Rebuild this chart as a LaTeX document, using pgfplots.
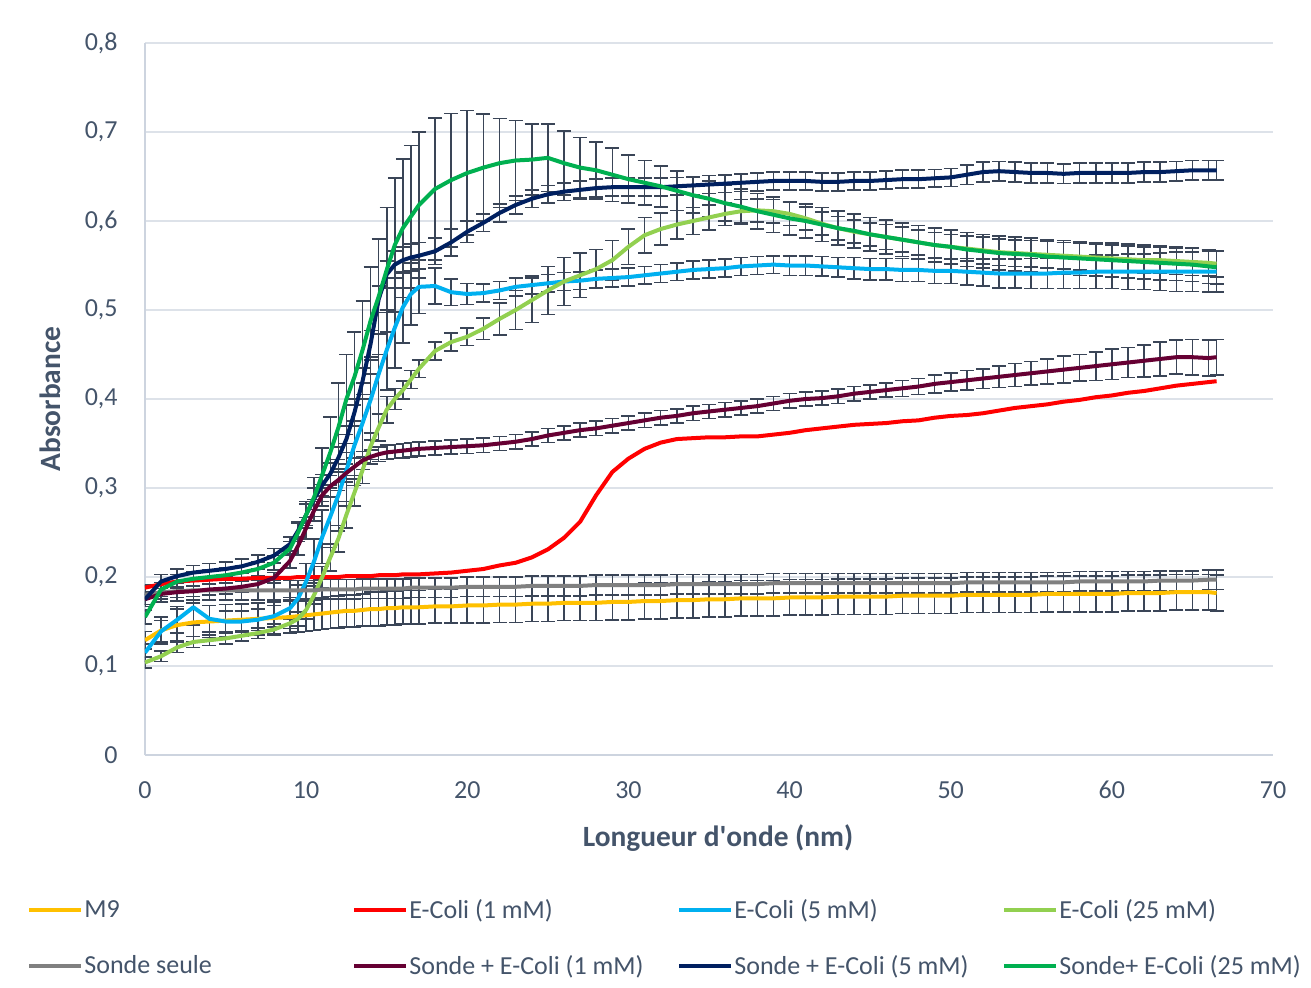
\documentclass[border=0pt]{standalone}
\usepackage{pgfplots}
\usepackage{pgfplotstable}
\usepackage{fontspec}
\setmainfont{Carlito}
\pgfplotsset{compat=1.18}
\definecolor{txt}{HTML}{44546A}
\definecolor{errc}{HTML}{3A4557}
\definecolor{gridc}{HTML}{DDE2E9}
\definecolor{axc}{HTML}{CDD4DF}
\definecolor{cM}{HTML}{FFC000}
\definecolor{cA}{HTML}{FF0000}
\definecolor{cB}{HTML}{00B0F0}
\definecolor{cC}{HTML}{92D050}
\definecolor{cS}{HTML}{808080}
\definecolor{cD}{HTML}{660033}
\definecolor{cE}{HTML}{002060}
\definecolor{cF}{HTML}{00B050}
\pgfplotstableread{
x m9 m9e e1 e5 e5e e25 e25e ss sse s1 s1e s5 s5e s25 s25e
0 .129 .010 .188 .115 .010 .104 .006 .180 .011 .175 .006 .175 .008 .155 .008
1 .140 .015 .192 .139 .012 .111 .006 .183 .011 .181 .006 .195 .008 .186 .008
2 .146 .018 .195 .152 .015 .121 .006 .184 .011 .183 .006 .201 .008 .195 .008
3 .149 .022 .196 .166 .020 .127 .006 .185 .011 .184 .006 .205 .008 .198 .008
4 .150 .018 .197 .153 .015 .129 .006 .185 .011 .186 .006 .207 .008 .200 .008
5 .151 .018 .198 .150 .012 .131 .006 .185 .011 .187 .006 .209 .008 .202 .008
6 .152 .018 .198 .150 .012 .134 .006 .185 .011 .189 .006 .212 .008 .205 .008
7 .153 .018 .199 .152 .012 .137 .006 .185 .011 .192 .006 .217 .008 .209 .008
8 .154 .018 .199 .156 .012 .141 .006 .185 .011 .199 .006 .224 .008 .216 .008
9 .155 .018 .199 .165 .012 .148 .006 .185 .011 .218 .008 .237 .008 .232 .008
9.5 .156 .018 .200 .176 .015 .153 .008 .185 .011 .235 .010 .252 .010 .250 .010
10 .157 .018 .200 .195 .020 .163 .010 .185 .011 .255 .012 .270 .012 .270 .015
10.5 .158 .018 .200 .218 .025 .180 .010 .185 .011 .275 .012 .288 .012 .290 .022
11 .159 .018 .200 .245 .030 .200 .012 .186 .011 .292 .012 .303 .012 .315 .030
11.5 .160 .018 .200 .268 .035 .222 .015 .186 .011 .302 .012 .316 .012 .340 .040
12 .161 .018 .200 .292 .040 .243 .015 .186 .011 .309 .012 .334 .012 .368 .050
12.5 .162 .018 .201 .320 .040 .270 .015 .186 .011 .317 .010 .355 .015 .400 .050
13 .162 .018 .201 .348 .045 .295 .015 .186 .011 .324 .010 .385 .015 .425 .050
13.5 .163 .018 .201 .373 .045 .320 .015 .187 .011 .331 .010 .420 .015 .455 .055
14 .164 .019 .201 .399 .045 .347 .015 .187 .011 .335 .008 .462 .015 .488 .060
14.5 .164 .019 .202 .428 .045 .368 .015 .187 .011 .338 .008 .512 .015 .515 .065
15 .165 .019 .202 .455 .045 .388 .015 .187 .011 .340 .008 .540 .015 .545 .070
15.5 .165 .019 .202 .480 .045 .400 .012 .187 .011 .341 .008 .551 .015 .573 .075
16 .166 .019 .203 .503 .040 .410 .010 .187 .011 .342 .008 .556 .015 .592 .078
16.5 .166 .019 .203 .518 .035 .422 .010 .188 .011 .343 .008 .559 .015 .605 .080
17 .166 .019 .203 .526 .030 .434 .010 .188 .011 .344 .008 .561 .015 .618 .082
18 .167 .019 .204 .527 .020 .454 .010 .188 .011 .345 .008 .566 .015 .636 .080
19 .167 .019 .205 .520 .015 .464 .010 .188 .011 .346 .008 .576 .015 .646 .075
20 .168 .020 .207 .518 .012 .470 .010 .189 .011 .347 .008 .588 .012 .654 .070
21 .168 .020 .209 .519 .010 .479 .012 .189 .011 .348 .008 .598 .010 .660 .060
22 .169 .020 .213 .522 .010 .490 .018 .189 .011 .350 .008 .609 .010 .665 .050
23 .169 .020 .216 .526 .010 .500 .022 .189 .011 .352 .008 .618 .010 .668 .045
24 .170 .020 .222 .528 .010 .511 .025 .190 .011 .355 .008 .625 .010 .669 .040
25 .170 .020 .231 .530 .010 .522 .027 .190 .011 .359 .008 .630 .010 .671 .038
26 .171 .020 .244 .532 .010 .532 .027 .190 .011 .362 .008 .633 .010 .665 .036
27 .171 .020 .262 .533 .010 .539 .025 .190 .011 .365 .008 .635 .010 .660 .034
28 .171 .020 .292 .535 .010 .546 .022 .191 .011 .367 .008 .637 .010 .657 .032
29 .172 .020 .318 .536 .010 .556 .022 .191 .011 .370 .008 .638 .010 .652 .030
30 .172 .020 .333 .537 .010 .571 .020 .191 .011 .373 .008 .638 .010 .647 .027
31 .173 .020 .344 .539 .010 .584 .020 .191 .011 .376 .008 .638 .010 .643 .025
32 .173 .020 .351 .541 .010 .591 .018 .191 .011 .379 .008 .638 .010 .639 .023
33 .174 .020 .355 .543 .010 .596 .016 .192 .011 .381 .008 .639 .010 .634 .022
34 .174 .020 .356 .545 .010 .600 .015 .192 .011 .384 .008 .640 .010 .629 .020
35 .175 .020 .357 .546 .010 .604 .014 .192 .011 .386 .008 .641 .010 .625 .020
36 .175 .020 .357 .547 .010 .608 .013 .192 .011 .388 .008 .642 .010 .620 .020
37 .176 .020 .358 .549 .010 .611 .013 .192 .011 .390 .008 .643 .010 .616 .020
38 .176 .020 .358 .550 .010 .612 .013 .192 .011 .392 .008 .644 .010 .611 .020
39 .176 .020 .360 .551 .010 .611 .013 .193 .011 .395 .008 .645 .010 .607 .020
40 .177 .020 .362 .550 .011 .608 .013 .193 .011 .398 .008 .645 .010 .603 .019
41 .177 .020 .365 .550 .011 .603 .013 .193 .011 .400 .008 .645 .010 .600 .019
42 .177 .020 .367 .549 .011 .597 .013 .193 .011 .401 .008 .644 .010 .596 .019
43 .178 .020 .369 .548 .011 .592 .013 .193 .011 .403 .008 .644 .010 .592 .019
44 .178 .020 .371 .547 .012 .588 .013 .193 .011 .406 .008 .645 .010 .589 .019
45 .178 .020 .372 .546 .012 .585 .013 .193 .011 .408 .008 .645 .010 .585 .019
46 .178 .020 .373 .546 .012 .582 .014 .193 .011 .410 .008 .646 .010 .582 .019
47 .179 .020 .375 .545 .013 .579 .014 .193 .011 .412 .009 .647 .010 .579 .019
48 .179 .020 .376 .545 .013 .576 .014 .193 .011 .414 .009 .647 .010 .576 .019
49 .179 .020 .379 .544 .014 .573 .014 .193 .011 .417 .010 .648 .010 .573 .019
50 .179 .020 .381 .544 .014 .571 .014 .193 .011 .419 .010 .649 .010 .571 .019
51 .180 .020 .382 .543 .015 .569 .014 .194 .011 .421 .011 .652 .011 .568 .019
52 .180 .020 .384 .542 .015 .567 .015 .194 .011 .423 .011 .655 .011 .566 .019
53 .180 .020 .387 .541 .016 .565 .015 .194 .011 .425 .012 .656 .011 .564 .019
54 .180 .020 .390 .541 .016 .564 .015 .194 .011 .427 .013 .655 .011 .563 .019
55 .180 .020 .392 .541 .017 .563 .015 .194 .011 .429 .013 .654 .011 .562 .019
56 .181 .020 .394 .541 .017 .562 .015 .194 .011 .431 .014 .654 .011 .560 .019
57 .181 .020 .397 .542 .018 .561 .015 .194 .011 .433 .015 .653 .011 .559 .019
58 .181 .020 .399 .542 .018 .560 .015 .195 .011 .435 .015 .654 .011 .558 .019
59 .181 .020 .402 .543 .019 .559 .015 .195 .011 .437 .016 .654 .011 .557 .019
60 .181 .020 .404 .543 .019 .558 .015 .195 .011 .439 .017 .654 .011 .556 .019
61 .182 .020 .407 .543 .020 .557 .015 .195 .011 .441 .017 .654 .011 .555 .019
62 .182 .020 .409 .543 .020 .556 .015 .195 .011 .443 .018 .655 .011 .554 .019
63 .182 .020 .412 .543 .021 .556 .015 .196 .011 .445 .019 .655 .011 .553 .019
64 .183 .020 .415 .543 .022 .555 .015 .196 .011 .447 .019 .656 .011 .552 .019
65 .183 .020 .417 .543 .022 .554 .015 .196 .011 .447 .020 .657 .011 .551 .019
66 .183 .020 .419 .543 .023 .553 .015 .197 .011 .446 .020 .657 .011 .549 .019
66.5 .182 .020 .420 .543 .023 .552 .015 .197 .011 .447 .020 .657 .011 .548 .019
}\data
\newcommand{\LE}[1]{\makebox[133.5pt][l]{#1}}
\pgfplotsset{
  errplot/.style={draw=none, mark=none, forget plot,
    error bars/.cd, y dir=both, y explicit,
    error bar style={draw=errc, line width=0.8pt},
    error mark options={rotate=90, draw=errc, line width=0.8pt, mark size=3.5pt}},
  serie/.style={no marks, line width=2pt, line join=round, color=#1}
}
\begin{document}
\begin{tikzpicture}
\begin{axis}[
  at={(0,0)}, anchor=south west,
  scale only axis, width=564pt, height=356pt,
  xmin=0, xmax=70, ymin=0, ymax=0.8,
  xtick={0,10,...,70}, ytick={0,0.1,...,0.8},
  axis lines*=left,
  axis line style={color=axc, line width=0.8pt},
  ymajorgrids, grid style={color=gridc, line width=0.8pt},
  major tick length=0pt,
  tick label style={font=\fontsize{13}{15}\selectfont, color=txt},
  /pgf/number format/.cd, assume math mode=true, use comma, fixed, precision=1, /pgfplots/.cd,
  xticklabel style={anchor=center, yshift=-17.5pt},
  yticklabel style={anchor=east, inner sep=0pt, xshift=-13.5pt},
  xlabel={Longueur d\textquotesingle onde (nm)},
  ylabel={Absorbance},
  xlabel style={at={(axis description cs:0.508,-0.1166)}, anchor=center, font=\fontsize{14.7}{17}\selectfont\bfseries, color=txt},
  ylabel style={at={(axis description cs:-0.0842,0.5)}, anchor=center, rotate=0, font=\fontsize{14.7}{17}\selectfont\bfseries, color=txt},
  legend columns=4,
  legend cell align=left,
  legend style={draw=none, fill=none, at={(0,0)}, anchor=north west, xshift=-62pt, yshift=-68pt,
    font=\fontsize{13}{15}\selectfont, text=txt, row sep=13pt,
    nodes={inner xsep=0.5pt}},
  legend image code/.code={\draw[#1] (0pt,0pt) -- (26pt,0pt);},
]
\addplot[errplot] table[x=x, y=m9, y error=m9e]{\data};
\addplot[errplot] table[x=x, y=e5, y error=e5e]{\data};
\addplot[errplot] table[x=x, y=e25, y error=e25e]{\data};
\addplot[errplot] table[x=x, y=ss, y error=sse]{\data};
\addplot[errplot] table[x=x, y=s1, y error=s1e]{\data};
\addplot[errplot] table[x=x, y=s5, y error=s5e]{\data};
\addplot[errplot] table[x=x, y=s25, y error=s25e]{\data};

\addplot[serie=cM] table[x=x, y=m9]{\data};
\addlegendentry{\LE{M9}}
\addplot[serie=cA] table[x=x, y=e1]{\data};
\addlegendentry{\LE{E-Coli (1 mM)}}
\addplot[serie=cB] table[x=x, y=e5]{\data};
\addlegendentry{\LE{E-Coli (5 mM)}}
\addplot[serie=cC] table[x=x, y=e25]{\data};
\addlegendentry{\LE{E-Coli (25 mM)}}
\addplot[serie=cS] table[x=x, y=ss]{\data};
\addlegendentry{\LE{Sonde seule}}
\addplot[serie=cD] table[x=x, y=s1]{\data};
\addlegendentry{\LE{Sonde + E-Coli (1 mM)}}
\addplot[serie=cE] table[x=x, y=s5]{\data};
\addlegendentry{\LE{Sonde + E-Coli (5 mM)}}
\addplot[serie=cF] table[x=x, y=s25]{\data};
\addlegendentry{Sonde+ E-Coli (25 mM)}
\end{axis}
\pgfresetboundingbox
\path[use as bounding box] (-72.5pt,-116pt) rectangle (583pt,377.5pt);
\end{tikzpicture}
\end{document}
